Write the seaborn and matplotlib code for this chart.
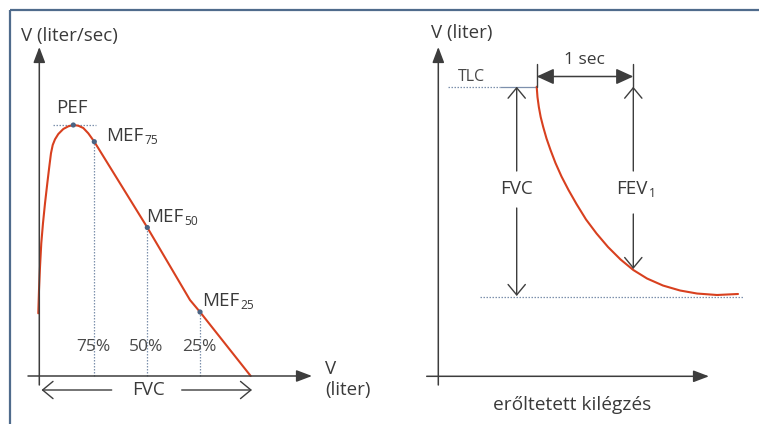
import numpy as np
import pandas as pd
import matplotlib
matplotlib.use("Agg")
import matplotlib.pyplot as plt
import seaborn as sns

# ---------------- data ----------------
# Flow-volume curve (left panel): volume in liters, flow in liter/sec
flow_volume = [-0.017, 0.0, 0.024, 0.054, 0.094, 0.142, 0.196, 0.243, 0.283, 0.324, 0.378,
               0.456, 0.574, 0.692, 0.810, 0.928, 1.046, 1.164, 1.306, 2.558, 3.566, 3.803, 5.0]
flow_rate = [2.498, 3.426, 4.355, 5.287, 6.084, 6.880, 7.677, 8.339, 8.873, 9.203, 9.430,
             9.641, 9.841, 9.948, 10.0, 9.972, 9.880, 9.669, 9.335, 5.916, 3.028, 2.550, 0.0]
marker_names = ["PEF", "MEF75", "MEF50", "MEF25"]
marker_volume = [0.810, 1.306, 2.558, 3.803]
marker_flow = [10.0, 9.335, 5.916, 2.550]
percent_labels = ["75%", "50%", "25%"]

# Volume-time curve (right panel): time in sec, volume in liters
time_sec = [0.0, 0.008, 0.022, 0.041, 0.067, 0.101, 0.142, 0.193, 0.255, 0.327, 0.409,
            0.507, 0.615, 0.733, 0.862, 0.993, 1.134, 1.298, 1.473, 1.648, 1.853, 2.069]
volume_l = [6.885, 6.640, 6.402, 6.164, 5.927, 5.653, 5.380, 5.071, 4.750, 4.429, 4.096,
            3.728, 3.395, 3.074, 2.777, 2.527, 2.325, 2.158, 2.040, 1.968, 1.933, 1.957]
tlc_volume = 6.885
rv_volume = 1.88
fev1_volume = 2.54

# ---------------- style ----------------
sns.set_theme(style="white")
plt.rcParams["font.family"] = ["Open Sans", "DejaVu Sans"]

RED = "#d8401f"
AXC = "#3d3d3d"
TXT = "#3a3a3a"
DOT = "#7d90ad"
PTC = "#4b6483"
FRAME = "#4f6b8c"

W, H = 759, 424
fig = plt.figure(figsize=(W / 100, H / 100), dpi=100)
fig.patch.set_facecolor("white")


def make_panel(left_px, right_px, x0_px, y0_px, sx, sy):
    ax = fig.add_axes([left_px / W, 0, (right_px - left_px) / W, 1])
    ax.set_xlim((left_px - x0_px) / sx, (right_px - x0_px) / sx)
    ax.set_ylim((y0_px - H) / sy, y0_px / sy)
    ax.axis("off")
    return ax

LX0, LY0, LSX, LSY = 39.0, 376.0, 42.34, 25.1
axL = make_panel(0, 380, LX0, LY0, LSX, LSY)
axR = make_panel(380, 759, 536.7, 376.3, 97.3, 42.06)

deco = fig.add_axes([0, 0, 1, 1])
deco.set_xlim(0, W)
deco.set_ylim(H, 0)
deco.axis("off")
deco.patch.set_alpha(0)

# ---------------- left curve ----------------
dfL = pd.DataFrame({"vol": flow_volume, "flow": flow_rate})
sns.lineplot(data=dfL, x="vol", y="flow", sort=False, ax=axL, color=RED, lw=1.5, zorder=3)
for v, f in zip(marker_volume[1:], marker_flow[1:]):
    axL.vlines(v, 0, f, colors=DOT, linestyles=(0, (1.2, 1.2)), lw=0.9, zorder=2)
axL.hlines(marker_flow[0], 0.33, 1.35, colors=DOT, linestyles=(0, (1.2, 1.2)), lw=0.9, zorder=2)
sns.scatterplot(x=marker_volume, y=marker_flow, ax=axL, color=PTC, s=14, edgecolor="none", zorder=4)

# ---------------- right curve ----------------
dfR = pd.DataFrame({"t": time_sec, "v": volume_l})
sns.lineplot(data=dfR, x="t", y="v", sort=False, ax=axR, color=RED, lw=1.5, zorder=3)
axR.hlines(tlc_volume, -0.915, -0.38, colors=DOT, linestyles=(0, (1.2, 1.2)), lw=0.9)
axR.hlines(tlc_volume, -0.38, 0.0, colors=DOT, lw=0.9)
axR.hlines(rv_volume, -0.583, 2.12, colors=DOT, linestyles=(0, (1.2, 1.2)), lw=0.9)

# ---------------- frame ----------------
deco.plot([10, W], [10, 10], color=FRAME, lw=1.6, solid_capstyle="butt")
deco.plot([10, 10], [10, H], color=FRAME, lw=1.6, solid_capstyle="butt")


def arrow(x1, y1, x2, y2, style, lw=1.1, color=AXC):
    deco.annotate("", xy=(x2, y2), xytext=(x1, y1),
                  arrowprops=dict(arrowstyle=style, color=color, lw=lw,
                                  shrinkA=0, shrinkB=0, mutation_scale=10))

FILLED = "-|>,head_length=0.95,head_width=0.36"
OPEN = "->,head_length=0.75,head_width=0.62"

arrow(39.3, 385, 39.3, 47, FILLED)
arrow(28, 376, 312, 376, FILLED)
arrow(438.3, 385, 438.3, 47, FILLED)
arrow(426.7, 376.3, 709, 376.3, FILLED)

arrow(111.7, 390, 41.5, 390, OPEN, lw=1.0)
arrow(181.7, 390, 252, 390, OPEN, lw=1.0)

arrow(516.7, 171, 516.7, 86.7, OPEN, lw=1.0)
arrow(516.7, 208, 516.7, 296, OPEN, lw=1.0)
arrow(633.3, 171, 633.3, 86.7, OPEN, lw=1.0)
arrow(633.3, 214, 633.3, 269, OPEN, lw=1.0)

deco.plot([536.7, 536.7], [64, 87], color=AXC, lw=1.0)
deco.plot([633.3, 633.3], [64, 87], color=AXC, lw=1.0)
arrow(536.7, 76.5, 633.3, 76.5, "<|-|>,head_length=1.05,head_width=0.48", lw=1.1)

# ---------------- texts ----------------
MAIN = 13.5


def txt(x, y, s, size=MAIN, ha="center", va="center", color=TXT, **kw):
    return deco.text(x, y, s, fontsize=size, ha=ha, va=va, color=color, **kw)


def sub_txt(x, y, s, sub, size=MAIN, ha="left"):
    t = txt(x, y, s, size=size, ha=ha, va="baseline")
    deco.annotate(sub, xy=(1.0, 0.0), xycoords=t, xytext=(1.0, 3.2),
                  textcoords="offset points", fontsize=size * 0.64,
                  ha="left", va="center", color=TXT)
    return t

txt(21, 36, "V (liter/sec)", ha="left")
txt(72, 108, "PEF")
sub_txt(106, 141, "MEF", "75")
sub_txt(146, 222, "MEF", "50")
sub_txt(202, 306, "MEF", "25")
for lab, v in zip(percent_labels, marker_volume[1:]):
    txt(LX0 + v * LSX - 1, 347, lab, size=12.5, color="#4a4a4a")
txt(149, 390, "FVC")
txt(325, 369, "V", ha="left")
txt(325, 390, "(liter)", ha="left")

txt(431, 33, "V (liter)", ha="left")
txt(458, 77, "TLC", size=11.5, ha="left", color="#484848")
txt(584, 60, "1 sec", size=12.5)
txt(516.7, 189, "FVC")
sub_txt(616, 194, "FEV", "1")
txt(572, 405, "erőltetett kilégzés", size=13.8)

fig.savefig("out.png", dpi=100, facecolor="white")
